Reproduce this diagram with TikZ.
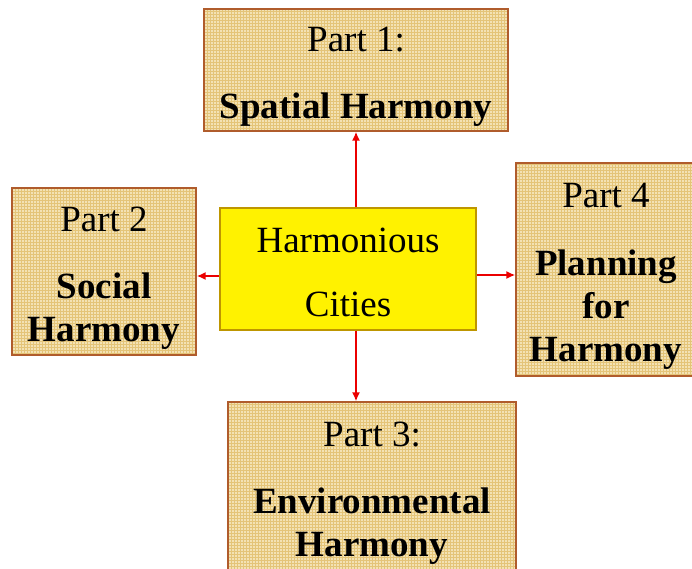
\documentclass[tikz,border=0pt]{standalone}
\usepackage{fontspec}
\setmainfont{Liberation Serif}
\usetikzlibrary{arrows.meta,patterns}

\definecolor{partfill}{RGB}{243,226,180}
\definecolor{partgrid}{RGB}{228,196,120}
\definecolor{partedge}{RGB}{176,92,44}
\definecolor{hubedge}{RGB}{190,150,0}
\definecolor{linkred}{RGB}{235,0,0}

\newcommand\partpad{\rule{0pt}{37pt}}

\begin{document}
\begin{tikzpicture}[
    x=1pt,y=-1pt,
    part/.style={rectangle,draw=partedge,line width=1.2pt,
      preaction={fill=partfill},pattern=grid,pattern color=partgrid,
      align=center,inner sep=0pt,font=\fontsize{37}{43}\selectfont},
    hub/.style={rectangle,draw=hubedge,line width=1.2pt,fill=yellow,
      align=center,inner sep=0pt,font=\fontsize{37}{43}\selectfont},
    link/.style={draw=linkred,line width=2pt,-{Latex[length=9pt,width=8pt]}}
    ]
    \useasboundingbox (0,0) rectangle (692,569);
    \clip (0,0) rectangle (692,569);

    \node (cities) [hub,minimum width=256pt,minimum height=122pt] at (348,269)
      {\rule{0pt}{31pt}Harmonious\\[21pt]Cities};

    \node (spatial) [part,minimum width=304pt,minimum height=122pt] at (356,70)
      {\partpad Part 1:\\[24pt]\textbf{Spatial Harmony}};
    \node (social) [part,minimum width=184pt,minimum height=167pt] at (104,271.5)
      {\partpad Part 2\\[24pt]\textbf{Social}\\\textbf{Harmony}};
    \node (plan) [part,minimum width=180pt,minimum height=213pt] at (606,269.5)
      {\partpad Part 4\\[25pt]\textbf{Planning}\\\textbf{for}\\\textbf{Harmony}};
    \node (env) [part,minimum width=288pt,minimum height=170pt] at (372,487)
      {\partpad Part 3:\\[24pt]\textbf{Environmental}\\\textbf{Harmony}};

    \draw[link] (spatial.south |- cities.north) -- (spatial.south);
    \draw[link] (spatial.south |- cities.south) -- (spatial.south |- env.north);
    \draw[link] ([yshift=-7pt]cities.west) -- ([yshift=-7pt]cities.west -| social.east);
    \draw[link] ([yshift=-6pt]cities.east) -- ([yshift=-6pt]cities.east -| plan.west);

  \end{tikzpicture}
\end{document}
